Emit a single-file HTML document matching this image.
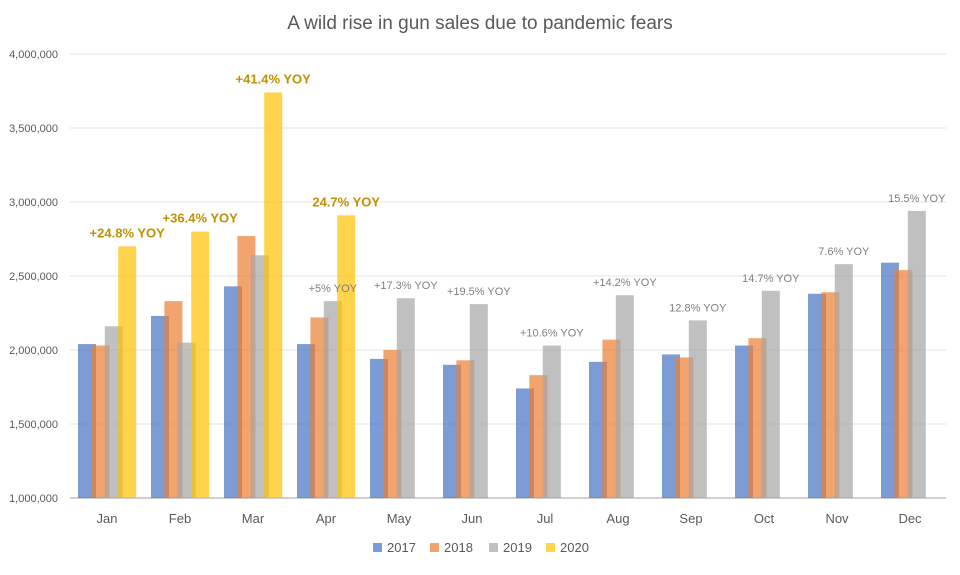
<!DOCTYPE html>
<html><head><meta charset="utf-8"><style>
body{margin:0;background:#fff}
svg text{font-family:"Liberation Sans",sans-serif}
</style></head><body>
<svg id="c" width="960" height="570" xmlns="http://www.w3.org/2000/svg">
<rect width="960" height="570" fill="#fff"/>
<text x="480" y="29" text-anchor="middle" font-size="19" fill="#595959">A wild rise in gun sales due to pandemic fears</text>
<g id="grid"></g><g id="bars"></g><g id="labels"></g><g id="legend"></g>
</svg>
<script>
const months=["Jan","Feb","Mar","Apr","May","Jun","Jul","Aug","Sep","Oct","Nov","Dec"];
const seriesNames=["2017","2018","2019","2020"];
const s2017=[2040000,2230000,2430000,2040000,1940000,1900000,1740000,1920000,1970000,2030000,2380000,2590000];
const s2018=[2030000,2330000,2770000,2220000,2000000,1930000,1830000,2070000,1950000,2080000,2390000,2540000];
const s2019=[2160000,2050000,2640000,2330000,2350000,2310000,2030000,2370000,2200000,2400000,2580000,2940000];
const s2020=[2700000,2800000,3740000,2910000,null,null,null,null,null,null,null,null];
const yoyLabels=["+24.8% YOY","+36.4% YOY","+41.4% YOY","24.7% YOY","+17.3% YOY","+19.5% YOY","+10.6% YOY","+14.2% YOY","12.8% YOY","14.7% YOY","7.6% YOY","15.5% YOY"];
const extraLabels=[null,null,null,"+5% YOY",null,null,null,null,null,null,null,null];
const yTicks=[1000000,1500000,2000000,2500000,3000000,3500000,4000000];
const NS="http://www.w3.org/2000/svg";
const colors=["#4472c4","#ed7d31","#a5a5a5","#ffc000"];
const all=[s2017,s2018,s2019,s2020];
const y0=498,pxPer=444/3000000;
function yS(v){return y0-(v-1000000)*pxPer;}
const x0=70.5,cw=73;
function xBar(i,s){return x0+i*cw+7.5+s*13.4;}
function mk(t,a,p){const e=document.createElementNS(NS,t);for(const k in a)e.setAttribute(k,a[k]);p.appendChild(e);return e;}
const grid=document.getElementById('grid');
yTicks.forEach(v=>{
  const y=yS(v);
  if(v>1000000){const l=mk('line',{x1:70,x2:946,y1:y,y2:y,stroke:'#e6e6e6','stroke-width':1},grid);
  
  }
  const t=mk('text',{x:58,y:y+4,'text-anchor':'end','font-size':11,fill:'#595959'},grid);
  t.textContent=v.toLocaleString('en-US');
  
  
});
const ax=mk('line',{x1:70,x2:946,y1:y0,y2:y0,stroke:'#bfbfbf','stroke-width':1.5},grid);


months.forEach((m,i)=>{
  const t=mk('text',{x:x0+i*cw+cw/2,y:523,'text-anchor':'middle','font-size':13,fill:'#595959'},grid);
  t.textContent=m;
  
  
});
const bars=document.getElementById('bars'),labels=document.getElementById('labels');
all.forEach((arr,s)=>{
  arr.forEach((v,i)=>{
    if(v==null)return;
    const r=mk('rect',{x:xBar(i,s),y:yS(v),width:18,height:y0-yS(v),fill:colors[s],'fill-opacity':0.7},bars);
    
    
  });
});
months.forEach((m,i)=>{
  const has2020=s2020[i]!=null;
  const s=has2020?3:2;const v=all[s][i];
  const t=mk('text',{x:xBar(i,s)+9,y:yS(v)-9,'text-anchor':'middle','font-size':has2020?13:11,'font-weight':has2020?'bold':'normal',fill:has2020?'#bf9000':'#7f7f7f'},labels);
  t.textContent=yoyLabels[i];
  
  
  if(extraLabels[i]){
    const t2=mk('text',{x:xBar(i,2)+9,y:yS(s2019[i])-9,'text-anchor':'middle','font-size':11,fill:'#7f7f7f'},labels);
    t2.textContent=extraLabels[i];
    
    
  }
});
const lg=document.getElementById('legend');
const lx=[373,430,489,546];
seriesNames.forEach((n,s)=>{
  const g=mk('g',{},lg);
  
  
  mk('rect',{x:lx[s],y:543,width:9,height:9,fill:colors[s],'fill-opacity':0.7},g);
  const t=mk('text',{x:lx[s]+14,y:552,'font-size':13,fill:'#595959'},g);
  t.textContent=n;
});
</script>
</body></html>
